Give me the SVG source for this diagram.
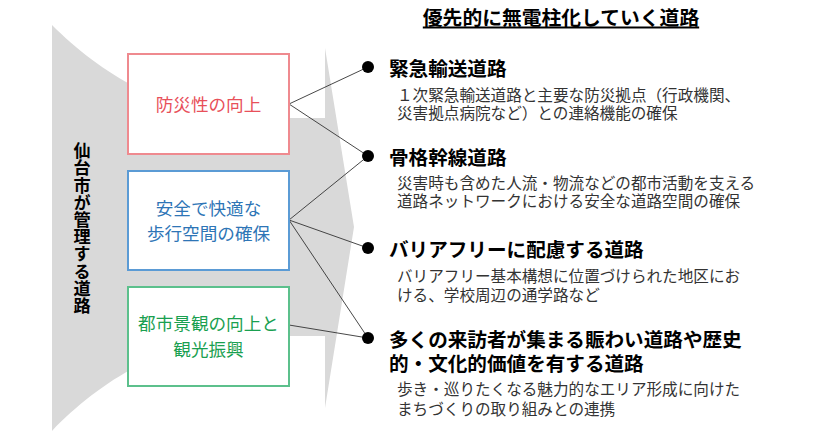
<svg xmlns="http://www.w3.org/2000/svg" width="830" height="436" viewBox="0 0 830 436">
<style>
text{font-family:"Noto Sans CJK JP","Noto Sans",sans-serif;dominant-baseline:central}
.box{fill:#fff;stroke-width:2}
.bt{font-size:17.6px;text-anchor:middle}
.h{font-size:19.6px;font-weight:bold;fill:#000}
.s{font-size:15.6px;fill:#333}
.c{stroke:#333;stroke-width:0.9;fill:none}
.dot{fill:#000}
</style>
<rect width="830" height="436" fill="#fff"/>
<g id="funnel">
<path d="M52,25 C100,73 170,118 260,118 L325,118 L325,48 L354,227 L325,408 L325,336 L260,336 C170,336 100,381 52,431 Z" fill="#d9d9d9"/>
</g>
<g id="label-left">
<text x="82" y="142" font-size="17.2" font-weight="bold" fill="#000" style="writing-mode:vertical-rl;dominant-baseline:auto">仙台市が管理する道路</text>
</g>
<g id="title">
<text x="561" y="16" font-size="19.8" font-weight="bold" fill="#000" text-anchor="middle" text-decoration="underline">優先的に無電柱化していく道路</text>
</g>
<g id="connectors">
<line class="c" x1="289" y1="104" x2="368" y2="67"/>
<line class="c" x1="289" y1="104" x2="368" y2="156"/>
<line class="c" x1="289" y1="220" x2="368" y2="156"/>
<line class="c" x1="289" y1="220" x2="368" y2="248"/>
<line class="c" x1="289" y1="220" x2="368" y2="338"/>
<line class="c" x1="289" y1="325" x2="368" y2="338"/>
</g>
<g id="box1">
<rect class="box" x="128" y="54" width="161" height="100" stroke="#ef8a8f"/>
<text class="bt" x="208.5" y="103" fill="#e8505a">防災性の向上</text>
</g>
<g id="box2">
<rect class="box" x="128" y="171" width="161" height="99" stroke="#5b9bd5"/>
<text class="bt" x="208.5" y="207" fill="#2e75b6">安全で快適な</text>
<text class="bt" x="208.5" y="232" fill="#2e75b6">歩行空間の確保</text>
</g>
<g id="box3">
<rect class="box" x="128" y="287" width="161" height="99" stroke="#5cc08c"/>
<text class="bt" x="208.5" y="322" fill="#1aa050">都市景観の向上と</text>
<text class="bt" x="208.5" y="348" fill="#1aa050">観光振興</text>
</g>
<g id="road1">
<circle class="dot" cx="368" cy="67" r="6"/>
<text class="h" x="389" y="67">緊急輸送道路</text>
<text class="s" x="397" y="94">１次緊急輸送道路と主要な防災拠点（行政機関、</text>
<text class="s" x="397" y="112">災害拠点病院など）との連絡機能の確保</text>
</g>
<g id="road2">
<circle class="dot" cx="368" cy="156" r="6"/>
<text class="h" x="389" y="156">骨格幹線道路</text>
<text class="s" x="397" y="182">災害時も含めた人流・物流などの都市活動を支える</text>
<text class="s" x="397" y="200">道路ネットワークにおける安全な道路空間の確保</text>
</g>
<g id="road3">
<circle class="dot" cx="368" cy="248" r="6"/>
<text class="h" x="389" y="248">バリアフリーに配慮する道路</text>
<text class="s" x="397" y="275">バリアフリー基本構想に位置づけられた地区にお</text>
<text class="s" x="397" y="294">ける、学校周辺の通学路など</text>
</g>
<g id="road4">
<circle class="dot" cx="368" cy="338" r="6"/>
<text class="h" x="389" y="338">多くの来訪者が集まる賑わい道路や歴史</text>
<text class="h" x="389" y="362">的・文化的価値を有する道路</text>
<text class="s" x="397" y="388">歩き・巡りたくなる魅力的なエリア形成に向けた</text>
<text class="s" x="397" y="408">まちづくりの取り組みとの連携</text>
</g>
</svg>
